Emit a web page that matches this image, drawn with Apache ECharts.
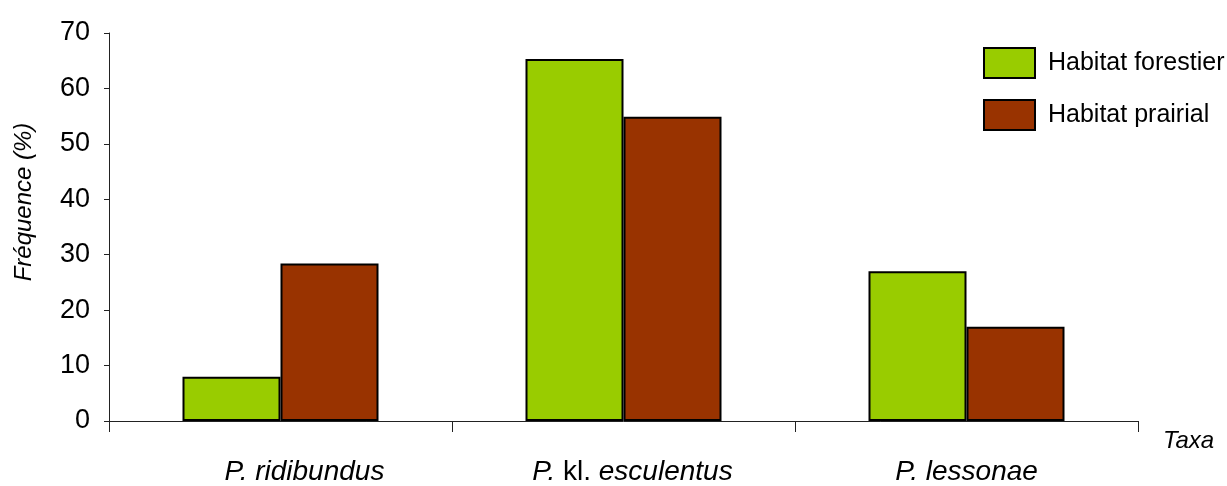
<!DOCTYPE html>
<html>
<head>
<meta charset="utf-8">
<script src="https://cdn.jsdelivr.net/npm/echarts@6/dist/echarts.min.js"></script>
<style>html,body{margin:0;padding:0;background:#fff}#c{width:1227px;height:486px}</style>
</head>
<body>
<div id="c"></div>
<script>
const categories = ['P. ridibundus', 'P. kl. esculentus', 'P. lessonae'];
const forestier = [8, 65.3, 27];
const prairial = [28.4, 54.9, 17];
const seriesNames = ['Habitat forestier', 'Habitat prairial'];
const yTicks = [0, 10, 20, 30, 40, 50, 60, 70];

const FONT = '"Liberation Sans", Arial, sans-serif';
const chart = echarts.init(document.getElementById('c'));
const base = {fontFamily: FONT, fontSize: 28, color: '#000'};
chart.setOption({
  animation: false,
  backgroundColor: '#fff',
  grid: {left: 109, right: 89, top: 33, bottom: 65, containLabel: false, outerBoundsMode: 'none'},
  legend: {
    orient: 'vertical', left: 978, top: 42,
    itemWidth: 51, itemHeight: 30, itemGap: 20,
    icon: 'rect',
    textStyle: {fontFamily: FONT, fontSize: 25, color: '#000', padding: [0, 0, 0, 8]},
    data: seriesNames
  },
  xAxis: {
    type: 'category',
    data: categories,
    name: 'Taxa',
    nameLocation: 'end',
    nameGap: 25,
    nameTextStyle: {fontFamily: FONT, fontSize: 24, fontStyle: 'italic', color: '#000', align: 'left', verticalAlign: 'top', padding: [8, 0, 0, 0]},
    axisLine: {lineStyle: {color: '#222', width: 1}},
    axisTick: {show: true, length: 11, lineStyle: {color: '#222', width: 1}},
    axisLabel: {
      margin: 37,
      formatter: function (v, i) {
        const pre = i === 0 ? '{s0|}' : (i === 1 ? '{s1|}' : '');
        if (v.indexOf(' kl. ') >= 0) {
          const p = v.split(' kl. ');
          return pre + '{it|' + p[0] + ' }{n|kl. }{it|' + p[1] + '}';
        }
        return pre + '{it|' + v + '}';
      },
      rich: {
        it: Object.assign({}, base, {fontStyle: 'italic'}),
        n: Object.assign({}, base, {fontStyle: 'normal'}),
        s0: {width: 48},
        s1: {width: 18}
      }
    },
    splitLine: {show: false}
  },
  yAxis: {
    type: 'value',
    min: 0, max: 70, interval: 10,
    name: 'Fréquence (%)',
    nameLocation: 'middle',
    nameGap: 73,
    nameRotate: 90,
    nameTextStyle: {fontFamily: FONT, fontSize: 24, fontStyle: 'italic', color: '#000', padding: [0, 0, 0, 50]},
    axisLine: {show: true, lineStyle: {color: '#222', width: 1}},
    axisTick: {show: true, length: 5, lineStyle: {color: '#222', width: 1}},
    axisLabel: {margin: 19, fontFamily: FONT, fontSize: 27, color: '#000',
      formatter: function (v) { return yTicks.indexOf(v) >= 0 ? String(v) : ''; }},
    splitLine: {show: false}
  },
  series: [
    {name: seriesNames[0], type: 'bar', data: forestier, barWidth: 98, barGap: '0%',
      itemStyle: {color: '#99CC00', borderColor: '#000', borderWidth: 2}},
    {name: seriesNames[1], type: 'bar', data: prairial, barWidth: 98, barGap: '0%',
      itemStyle: {color: '#993300', borderColor: '#000', borderWidth: 2}}
  ]
});
</script>
</body>
</html>
